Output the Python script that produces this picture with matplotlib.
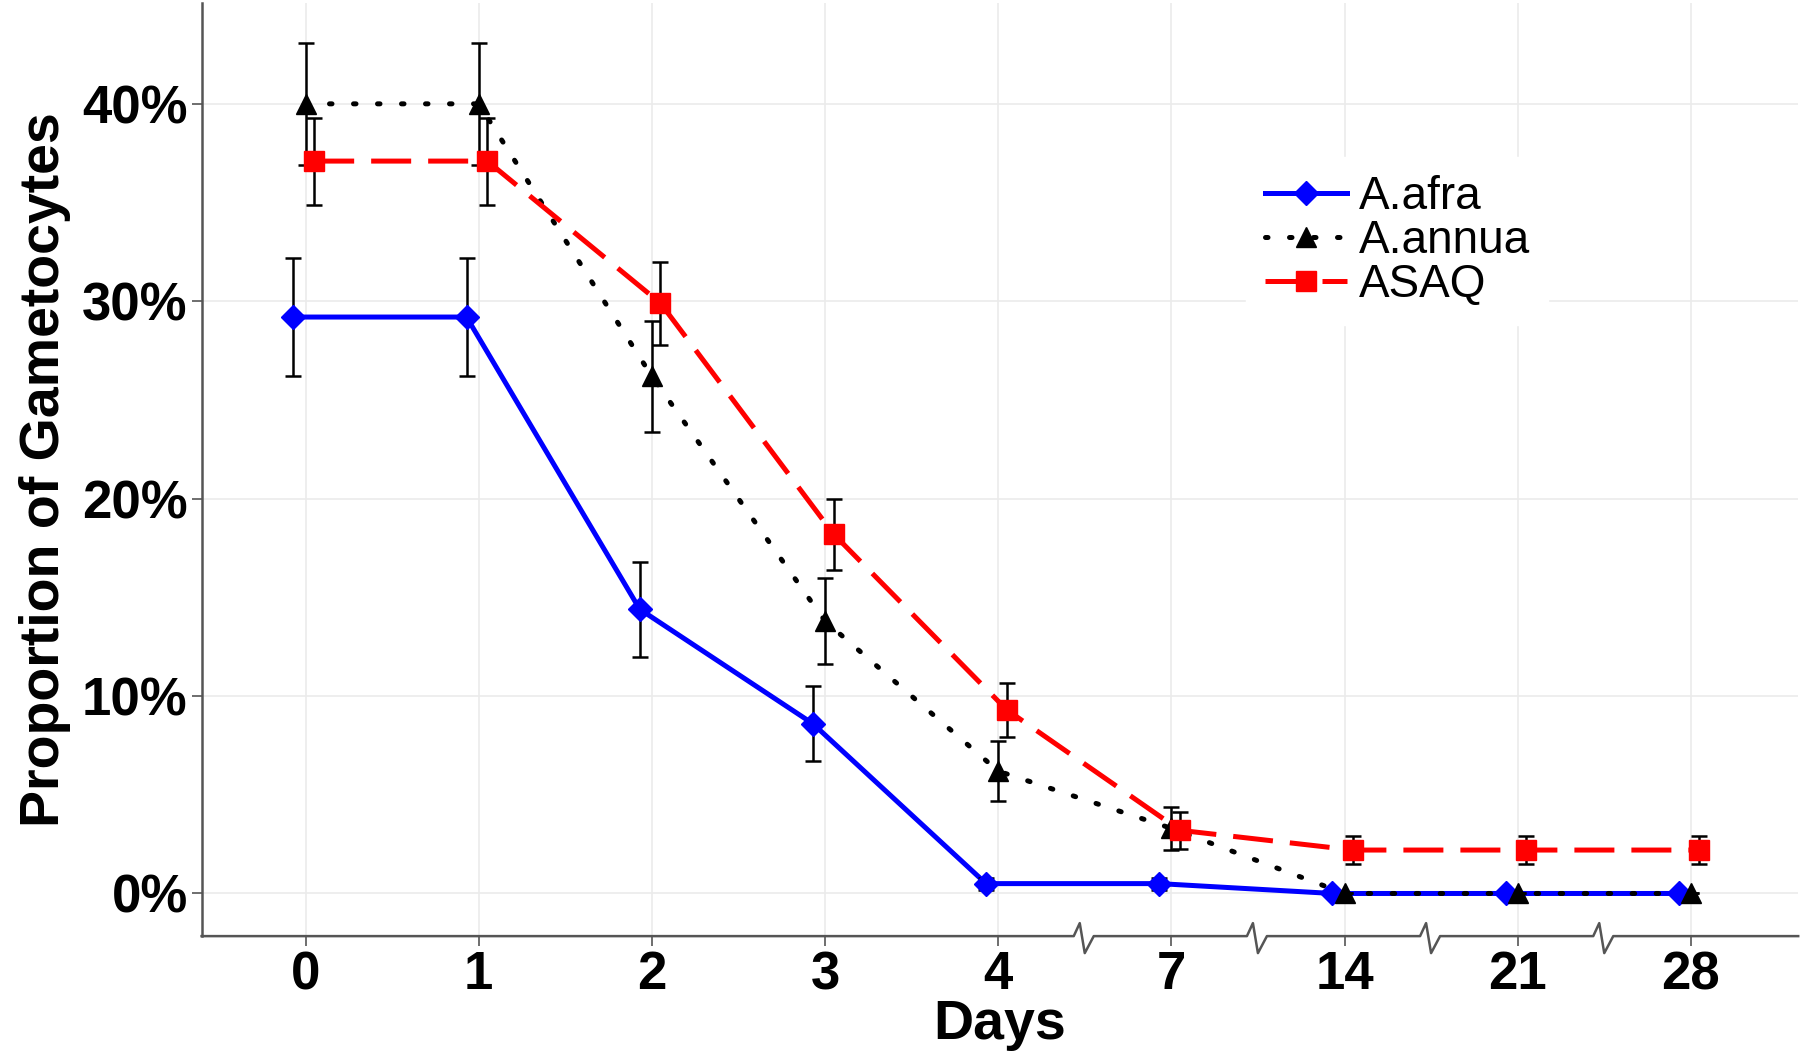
"""
Gametocyte proportion by treatment arm over follow-up days.
"""

import numpy as np
import matplotlib
matplotlib.use("Agg")
import matplotlib.pyplot as plt
from matplotlib.lines import Line2D

plt.rcParams['font.family'] = ['Liberation Sans', 'DejaVu Sans']

# data (percent)
day_labels = ["0", "1", "2", "3", "4", "7", "14", "21", "28"]
afra       = [29.2, 29.2, 14.4, 8.6, 0.5, 0.5, 0.0, 0.0, 0.0]
afra_err   = [3.0, 3.0, 2.4, 1.9, 0.3, 0.3, 0.0, 0.0, 0.0]
annua      = [40.0, 40.0, 26.2, 13.8, 6.2, 3.3, 0.0, 0.0, 0.0]
annua_err  = [3.1, 3.1, 2.8, 2.2, 1.5, 1.1, 0.0, 0.0, 0.0]
asaq       = [37.1, 37.1, 29.9, 18.2, 9.3, 3.2, 2.2, 2.2, 2.2]
asaq_err   = [2.2, 2.2, 2.1, 1.8, 1.35, 0.95, 0.7, 0.7, 0.7]
y_ticks    = [0, 10, 20, 30, 40]

pos = np.arange(len(day_labels))

fig = plt.figure(figsize=(18, 10.53), dpi=100)
ax = fig.add_axes([0.112, 0.111, 0.887, 0.886])

series = [
    ('A.afra',  afra,  afra_err,  -0.07, 'blue',  '-',             'D', 12),
    ('A.annua', annua, annua_err,  0.0,  'black', (0, (0.5, 4.3)), '^', 15),
    ('ASAQ',    asaq,  asaq_err,   0.05, 'red',   (0, (8.0, 3.4)), 's', 14),
]

handles = []
for name, vals, err, dx, col, ls, mk, ms in series:
    x = pos + dx
    cap = 'round' if col == 'black' else 'butt'
    ax.plot(x, vals, color=col, ls=ls, lw=3.6, dash_capstyle=cap, zorder=3)
    ax.errorbar(x, vals, yerr=err, fmt='none', ecolor='black', elinewidth=1.8,
                capsize=6, capthick=1.8, zorder=4)
    ax.plot(x, vals, ls='none', marker=mk, color=col, ms=ms, zorder=5)
    handles.append(Line2D([], [], color=col, ls=ls, lw=3.6, marker=mk, ms=ms,
                          dash_capstyle=cap))

ax.set_xlim(-0.6, 8.62)
ax.set_ylim(-2.16, 45.1)
ax.set_xticks(pos)
ax.set_xticklabels(day_labels)
ax.set_yticks(y_ticks)
ax.set_yticklabels([f'{v}%' for v in y_ticks])
ax.tick_params(axis='both', labelsize=38, colors='#555555', length=7, width=1.2)
for lab in ax.get_xticklabels() + ax.get_yticklabels():
    lab.set_fontweight('bold')
    lab.set_color('black')
ax.tick_params(axis='x', pad=3)
ax.tick_params(axis='y', pad=3)

ax.grid(True, color='#ebebeb', lw=1.2)
ax.set_axisbelow(True)
for s in ['top', 'right', 'bottom']:
    ax.spines[s].set_visible(False)
ax.spines['left'].set_color('#555555')
ax.spines['left'].set_linewidth(1.8)

ax.set_xlabel('Days', fontsize=40, fontweight='bold', labelpad=-1)
ax.set_ylabel('Proportion of Gametocytes', fontsize=40, fontweight='bold', labelpad=8)

leg = ax.legend(handles, [s[0] for s in series], loc='upper left',
                bbox_to_anchor=(0.64, 0.86), fontsize=33, frameon=True,
                framealpha=1.0, edgecolor='white', fancybox=False,
                handlelength=1.8, handletextpad=0.25, labelspacing=0.0,
                borderpad=0.4)

# broken bottom axis: continuous line with zigzags between the later days
fig.canvas.draw()
breaks = [4.5, 5.5, 6.5, 7.5]
x0_pix = ax.transAxes.transform((0, 0))
x1_pix = ax.transAxes.transform((1, 0))
ybase = x0_pix[1]
pts = [(x0_pix[0], ybase)]
for b in breaks:
    bx = ax.transData.transform((b, 0))[0]
    pts += [(bx - 11, ybase), (bx - 5, ybase + 13), (bx, ybase - 17), (bx + 9, ybase)]
pts.append((x1_pix[0], ybase))
pts = fig.transFigure.inverted().transform(np.array(pts))
fig.add_artist(Line2D(pts[:, 0], pts[:, 1], color='#555555', lw=1.8,
                      transform=fig.transFigure, solid_joinstyle='round'))

plt.savefig('out.png', dpi=100)
plt.close()
